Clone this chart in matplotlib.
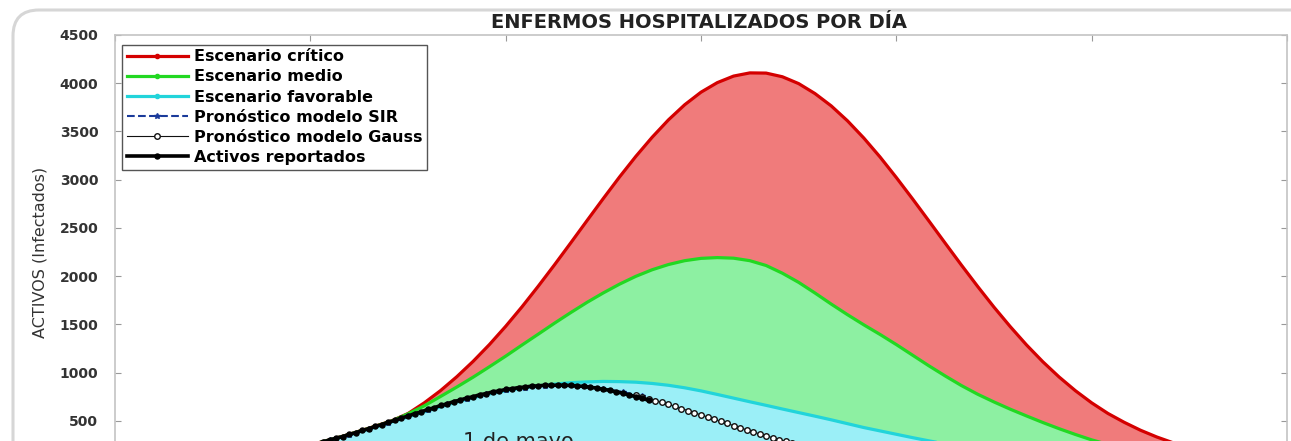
import matplotlib.pyplot as plt
from matplotlib.patches import FancyBboxPatch
from matplotlib.transforms import IdentityTransform

# days since start of the series (x axis labels are cropped in the source)
dias = [30, 32.5, 35, 37.5, 40, 42.5, 45, 47.5, 50, 52.5, 55, 57.5, 60, 62.5,
        65, 67.5, 70, 72.5, 75, 77.5, 80, 82.5, 85, 87.5, 90, 92.5, 95, 97.5,
        100, 102.5, 105, 107.5, 110, 112.5, 115, 117.5, 120, 122.5, 125,
        127.5, 130, 132.5, 135, 137.5, 140, 142.5, 145, 147.5, 150, 152.5,
        155, 157.5, 160, 162.5, 165, 167.5, 170, 172.5, 175]
critico = [250, 295, 340, 392, 445, 500, 575, 686, 813, 957, 1116, 1290, 1479,
           1681, 1895, 2117, 2345, 2576, 2805, 3029, 3242, 3440, 3620, 3777,
           3907, 4006, 4074, 4107, 4105, 4067, 3996, 3893, 3765, 3610, 3432,
           3235, 3022, 2800, 2572, 2342, 2114, 1892, 1678, 1476, 1286, 1112,
           954, 812, 686, 576, 484, 402, 332, 272, 222, 180, 142, 112, 88]
medio = [249, 294, 339, 391, 443, 498, 572, 655, 752, 850, 952, 1060, 1170,
         1285, 1398, 1512, 1622, 1728, 1826, 1917, 1998, 2066, 2120, 2160,
         2184, 2192, 2186, 2160, 2110, 2030, 1935, 1825, 1710, 1600, 1495,
         1395, 1290, 1180, 1070, 965, 865, 775, 695, 620, 550, 482, 418, 358,
         302, 255, 212, 176, 145, 118, 96, 78, 62, 50, 40]
favorable = [245, 290, 335, 385, 435, 488, 540, 593, 645, 695, 740, 778, 812,
             840, 862, 880, 895, 903, 908, 906, 900, 887, 868, 842, 810, 773,
             735, 697, 660, 622, 585, 548, 510, 470, 430, 395, 360, 325, 292,
             260, 232, 205, 182, 160, 140, 122, 106, 92, 80, 70, 60, 52, 45,
             40, 35, 30, 26, 22, 20]

dias_rep = list(range(30, 83))
reportados = [248, 262, 284, 300, 321, 336, 360, 376, 400, 417, 442, 460, 486,
              504, 530, 548, 574, 591, 617, 634, 659, 675, 699, 714, 736, 749,
              770, 781, 800, 809, 825, 832, 845, 849, 860, 861, 869, 866, 870,
              868, 866, 860, 857, 846, 840, 825, 816, 798, 787, 766, 750, 731,
              712]

dias_sir = list(range(30, 84, 3))
sir = [246, 298, 356, 418, 482, 548, 612, 673, 728, 776, 815, 845, 863, 868,
       858, 834, 798, 752]

dias_gauss = list(range(80, 111))
gauss = [764, 746, 728, 710, 690, 670, 649, 627, 606, 584, 561, 539, 516, 494,
         472, 450, 428, 406, 385, 364, 344, 325, 305, 287, 269, 252, 235, 219,
         204, 190, 176]

yticks = [500, 1000, 1500, 2000, 2500, 3000, 3500, 4000, 4500]

fig = plt.figure(figsize=(12.91, 4.41), dpi=100)
W, H = 1291, 441
# axes box: left 115px, right 1287px, top 35px, zero line below the crop at 469px
ax = fig.add_axes([115 / W, 1 - 469 / H, (1287 - 115) / W, (469 - 35) / H])

ax.fill_between(dias, 0, critico, color='#F07B7B', lw=0, zorder=1)
ax.fill_between(dias, 0, medio, color='#8DF0A2', lw=0, zorder=2)
ax.fill_between(dias, 0, favorable, color='#9BEFF7', lw=0, zorder=3)

ax.plot(dias, critico, color='#D40000', lw=2.3, marker='.', markevery=[],
        label='Escenario crítico', zorder=4)
ax.plot(dias, medio, color='#22D822', lw=2.3, marker='.', markevery=[],
        label='Escenario medio', zorder=5)
ax.plot(dias, favorable, color='#22D4DA', lw=2.3, marker='.', markevery=[],
        label='Escenario favorable', zorder=6)
ax.plot(dias_sir, sir, color='#1A3A9A', ls='--', lw=1.5, marker='*', ms=4,
        label='Pronóstico modelo SIR', zorder=7)
ax.plot(dias_gauss, gauss, color='#111111', lw=0.8, marker='o', ms=4,
        mfc='white', mec='#111111', mew=1, label='Pronóstico modelo Gauss',
        zorder=8)
ax.plot(dias_rep, reportados, color='black', lw=2.6, marker='o', ms=3.6,
        label='Activos reportados', zorder=9)

ax.text(53.5, 385, '1 de mayo', fontsize=15, color='#222222', va='top',
        ha='left', zorder=10)

ax.set_xlim(0, 180)
ax.set_ylim(0, 4500)
ax.set_xticks(range(0, 181, 30))
ax.set_yticks(yticks)
ax.set_yticklabels([str(v) for v in yticks], fontsize=10, fontweight='bold',
                   color='#333333')
ax.tick_params(direction='in', top=True, right=True, length=4,
               color='#999999', width=0.8, labelbottom=False, pad=12)
for s in ax.spines.values():
    s.set_color('#c4c4c4')
    s.set_linewidth(1.2)

ax.set_ylabel('ACTIVOS (Infectados)', fontsize=11.5, color='#333333')
ax.yaxis.set_label_coords(-(115 - 48) / 1172, 0.5)

leg = ax.legend(loc='upper left', bbox_to_anchor=(0.006, 0.978),
                prop={'size': 11.5, 'weight': 'bold'}, fancybox=False,
                framealpha=1, edgecolor='#555555', handlelength=3.8,
                handletextpad=0.4, labelspacing=0.32, borderpad=0.3,
                borderaxespad=0)
leg.get_frame().set_linewidth(1)

fig.text(699 / W, 1 - 22 / H, 'ENFERMOS HOSPITALIZADOS POR DÍA',
         fontsize=14, fontweight='bold', color='#222222',
         ha='center', va='center')

# light rounded frame of the screenshot
frame = FancyBboxPatch((13, -60), 1400, H - 10 + 60,
                       boxstyle='round,pad=0,rounding_size=26',
                       transform=IdentityTransform(), fill=False,
                       edgecolor='#d6d6d6', lw=2.2)
fig.add_artist(frame)

fig.savefig('out.png', dpi=100)
